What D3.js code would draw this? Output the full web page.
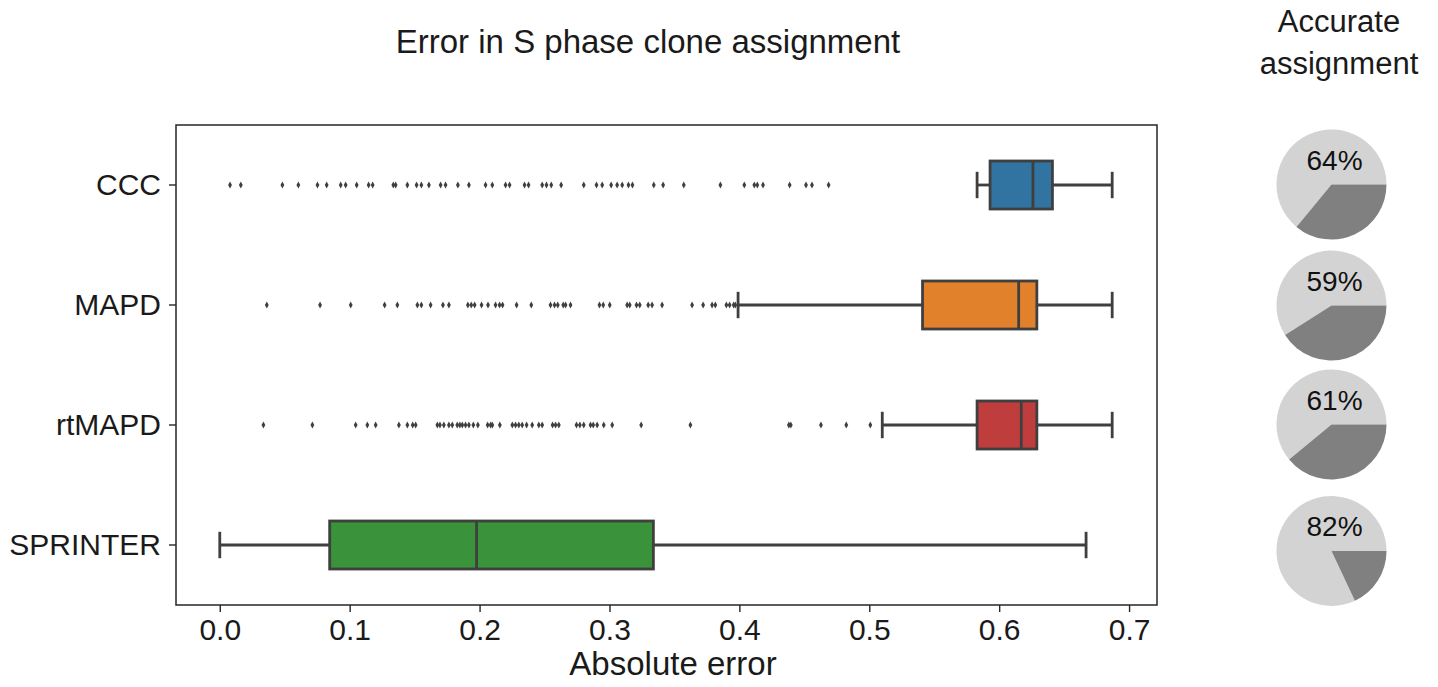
<!DOCTYPE html>
<html>
<head>
<meta charset="utf-8">
<script src="https://cdn.jsdelivr.net/npm/d3@7"></script>
<style>
  html, body { margin: 0; padding: 0; background: #fff; }
  svg { display: block; font-family: "Liberation Sans", Arial, sans-serif; }
</style>
</head>
<body>
<svg id="chart" width="1438" height="687"></svg>
<script>
// Methods compared, top to bottom
const methods = ["CCC", "MAPD", "rtMAPD", "SPRINTER"];
const boxColors = ["#3274a1", "#e1812c", "#c03d3e", "#3a923a"];

// Box summaries: [lower whisker, Q1, median, Q3, upper whisker]
const cccBox = [0.583, 0.593, 0.626, 0.641, 0.687];
const mapdBox = [0.399, 0.541, 0.615, 0.629, 0.687];
const rtmapdBox = [0.510, 0.583, 0.617, 0.629, 0.687];
const sprinterBox = [0.0, 0.0846, 0.1977, 0.3338, 0.6669];

// Outlying cells beyond the whiskers
const cccFliers = [0.0079, 0.0162, 0.0482, 0.0605, 0.0752, 0.0823, 0.0931, 0.0969, 0.1054, 0.1146,
  0.1177, 0.1336, 0.1354, 0.1444, 0.1515, 0.1552, 0.1610, 0.1700, 0.1738, 0.1833, 0.1918,
  0.2046, 0.2098, 0.2200, 0.2231, 0.2346, 0.2377, 0.2482, 0.2515, 0.2552, 0.2628, 0.2802,
  0.2900, 0.2944, 0.3013, 0.3059, 0.3098, 0.3146, 0.3177, 0.3341, 0.3413, 0.3572, 0.3854,
  0.4038, 0.4115, 0.4138, 0.4182, 0.4387, 0.4513, 0.4559, 0.4687];
const mapdFliers = [0.0362, 0.0772, 0.1008, 0.1269, 0.1367, 0.1521, 0.1552, 0.1623, 0.1718, 0.1764,
  0.1910, 0.1936, 0.1962, 0.2015, 0.2065, 0.2123, 0.2154, 0.2177, 0.2285, 0.2398, 0.2546,
  0.2577, 0.2602, 0.2644, 0.2662, 0.2700, 0.2923, 0.2952, 0.3002, 0.3136, 0.3156, 0.3208,
  0.3233, 0.3298, 0.3328, 0.3405, 0.3636, 0.3721, 0.3790, 0.3815, 0.3900, 0.3925, 0.3956, 0.3969];
const rtmapdFliers = [0.0336, 0.0713, 0.1046, 0.1136, 0.1200, 0.1379, 0.1444, 0.1485, 0.1508, 0.1675,
  0.1695, 0.1725, 0.1764, 0.1790, 0.1828, 0.1848, 0.1867, 0.1892, 0.1918, 0.1952, 0.1987,
  0.2062, 0.2085, 0.2098, 0.2156, 0.2252, 0.2277, 0.2302, 0.2328, 0.2362, 0.2405, 0.2456,
  0.2482, 0.2562, 0.2585, 0.2610, 0.2746, 0.2772, 0.2802, 0.2854, 0.2875, 0.2905, 0.2956,
  0.3021, 0.3244, 0.3623, 0.4381, 0.4396, 0.4628, 0.4823, 0.5008];
const sprinterFliers = [];

// Share of S-phase cells assigned to the correct clone
const accuracy = [64, 59, 61, 82];

const xTicks = [0.0, 0.1, 0.2, 0.3, 0.4, 0.5, 0.6, 0.7];

const boxes = [cccBox, mapdBox, rtmapdBox, sprinterBox];
const fliers = [cccFliers, mapdFliers, rtmapdFliers, sprinterFliers];

const svg = d3.select("#chart");
const frame = { left: 176, right: 1157, top: 125, bottom: 605 };
const ink = "#3f3f3f";
const textColor = "#1a1a1a";

const x = d3.scaleLinear().domain([-0.0337, 0.7215]).range([frame.left, frame.right]);
const y = d3.scaleBand().domain(methods).range([frame.top, frame.bottom]);

// Axes
const xAxis = d3.axisBottom(x).tickValues(xTicks).tickFormat(d3.format(".1f")).tickSize(7).tickPadding(7);
const gx = svg.append("g").attr("transform", `translate(0,${frame.bottom})`).call(xAxis);
gx.select(".domain").remove();
gx.selectAll("line").attr("stroke", "#262626").attr("stroke-width", 1.4);
gx.selectAll("text").attr("fill", textColor).style("font-size", "30px")
  .style("font-family", "'Liberation Sans', Arial, sans-serif");

const yAxis = d3.axisLeft(y).tickSize(7).tickPadding(8);
const gy = svg.append("g").attr("transform", `translate(${frame.left},0)`).call(yAxis);
gy.select(".domain").remove();
gy.selectAll("line").attr("stroke", "#262626").attr("stroke-width", 1.4);
gy.selectAll("text").attr("fill", textColor).style("font-size", "30px")
  .style("font-family", "'Liberation Sans', Arial, sans-serif");

// Plot frame
svg.append("rect")
  .attr("x", frame.left).attr("y", frame.top)
  .attr("width", frame.right - frame.left).attr("height", frame.bottom - frame.top)
  .attr("fill", "none").attr("stroke", "#262626").attr("stroke-width", 1.5);

// Box plots
const boxH = y.bandwidth() * 0.4;
const capH = boxH * 0.55;
methods.forEach((m, i) => {
  const cy = y(m) + y.bandwidth() / 2;
  const [lo, q1, med, q3, hi] = boxes[i];
  const g = svg.append("g");
  // whiskers
  g.append("line").attr("x1", x(lo)).attr("x2", x(q1)).attr("y1", cy).attr("y2", cy);
  g.append("line").attr("x1", x(q3)).attr("x2", x(hi)).attr("y1", cy).attr("y2", cy);
  // caps
  g.append("line").attr("x1", x(lo)).attr("x2", x(lo)).attr("y1", cy - capH / 2).attr("y2", cy + capH / 2);
  g.append("line").attr("x1", x(hi)).attr("x2", x(hi)).attr("y1", cy - capH / 2).attr("y2", cy + capH / 2);
  g.selectAll("line").attr("stroke", ink).attr("stroke-width", 2.8);
  // box
  g.append("rect")
    .attr("x", x(q1)).attr("y", cy - boxH / 2)
    .attr("width", x(q3) - x(q1)).attr("height", boxH)
    .attr("fill", boxColors[i]).attr("stroke", ink).attr("stroke-width", 2.8);
  // median
  g.append("line").attr("x1", x(med)).attr("x2", x(med))
    .attr("y1", cy - boxH / 2).attr("y2", cy + boxH / 2)
    .attr("stroke", ink).attr("stroke-width", 2.8);
  // outliers as thin diamonds
  g.selectAll("path.flier").data(fliers[i]).join("path")
    .attr("class", "flier")
    .attr("d", d => `M${x(d)},${cy - 3.4}L${x(d) + 1.9},${cy}L${x(d)},${cy + 3.4}L${x(d) - 1.9},${cy}Z`)
    .attr("fill", ink);
});

// Titles
svg.append("text").attr("x", 648).attr("y", 53)
  .attr("text-anchor", "middle").style("font-size", "33px").attr("fill", textColor)
  .text("Error in S phase clone assignment");
svg.append("text").attr("x", 673).attr("y", 675)
  .attr("text-anchor", "middle").style("font-size", "33px").attr("fill", textColor)
  .text("Absolute error");
const acc = svg.append("text").attr("text-anchor", "middle").style("font-size", "31px").attr("fill", textColor);
acc.append("tspan").attr("x", 1339).attr("y", 32).text("Accurate");
acc.append("tspan").attr("x", 1339).attr("y", 74).text("assignment");

// Accuracy pies: correct share sweeps counter-clockwise from 3 o'clock
const pieCy = [184.5, 305.5, 424.5, 551];
const pie = d3.pie().sort(null).startAngle(Math.PI / 2).endAngle(Math.PI / 2 - 2 * Math.PI);
const arc = d3.arc().innerRadius(0).outerRadius(55);
accuracy.forEach((a, i) => {
  const g = svg.append("g").attr("transform", `translate(1331.5,${pieCy[i]})`);
  g.selectAll("path").data(pie([a, 100 - a])).join("path")
    .attr("d", arc)
    .attr("fill", (d, j) => j === 0 ? "#d3d3d3" : "#808080");
  g.append("text").attr("x", 3).attr("y", -15).attr("text-anchor", "middle")
    .style("font-size", "28px").attr("fill", "#111").text(a + "%");
});
</script>
</body>
</html>
